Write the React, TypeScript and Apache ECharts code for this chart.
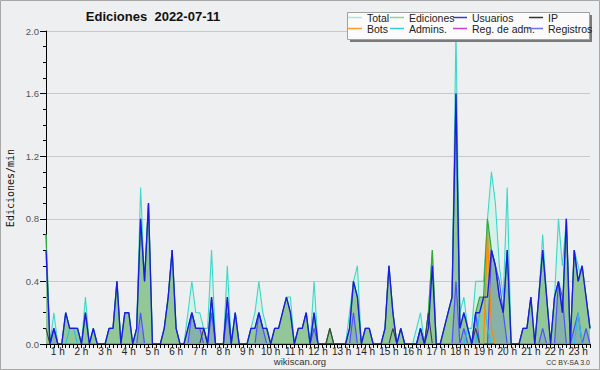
import React, { useEffect, useRef } from "react";
import * as echarts from "echarts";

// 10-minute slots from 00:00 to 23:00
const slots: string[] = [];
for (let h = 0; h <= 23; h++) {
  for (let m = 0; m < 60; m += 10) {
    if (h === 23 && m > 0) break;
    slots.push(`${String(h).padStart(2, "0")}:${String(m).padStart(2, "0")}`);
  }
}

const hourLabels = [
  "1 h", "2 h", "3 h", "4 h", "5 h", "6 h", "7 h", "8 h", "9 h", "10 h", "11 h", "12 h",
  "13 h", "14 h", "15 h", "16 h", "17 h", "18 h", "19 h", "20 h", "21 h", "22 h", "23 h",
];

const total = [
  0.7, 0, 0.2, 0, 0, 0.2, 0.1, 0.1, 0.1, 0,
  0.3, 0, 0.1, 0, 0, 0, 0.1, 0.1, 0.4, 0,
  0.2, 0.2, 0, 0.1, 1.0, 0.4, 0.9, 0, 0, 0,
  0.1, 0.3, 0.6, 0.1, 0, 0, 0.2, 0.4, 0.2, 0.2,
  0.1, 0.1, 0.6, 0, 0, 0, 0.5, 0, 0.2, 0,
  0, 0, 0.1, 0.2, 0.4, 0.2, 0.1, 0, 0.1, 0.1,
  0.2, 0.3, 0.3, 0, 0.1, 0.1, 0.2, 0, 0.4, 0,
  0, 0, 0.1, 0, 0, 0, 0, 0.2, 0.4, 0.5,
  0, 0.1, 0.1, 0, 0, 0, 0.1, 0.5, 0.2, 0,
  0.1, 0, 0, 0, 0.1, 0.2, 0, 0.2, 0.6, 0,
  0, 0.1, 0.2, 0.3, 2.0, 0.2, 0.3, 0.1, 0.1, 0.4,
  0.4, 0.4, 0.8, 1.1, 0.9, 0.5, 0.3, 1.0, 0, 0,
  0, 0.1, 0.1, 0.3, 0, 0.3, 0.7, 0.3, 0, 0.3,
  0.8, 0.5, 0.8, 0, 0.6, 0.5, 0.4, 0.3, 0.1,
];

const ediciones = [
  0.7, 0, 0.1, 0, 0, 0.2, 0.1, 0.1, 0.1, 0,
  0.2, 0, 0.1, 0, 0, 0, 0.1, 0.1, 0.4, 0,
  0.2, 0.2, 0, 0.1, 0.8, 0.4, 0.9, 0, 0, 0,
  0.1, 0.3, 0.6, 0.1, 0, 0, 0.1, 0.2, 0.1, 0.1,
  0.1, 0, 0.3, 0, 0, 0, 0.3, 0, 0.2, 0,
  0, 0, 0.1, 0.1, 0.2, 0.1, 0.1, 0, 0.1, 0.1,
  0.2, 0.3, 0.2, 0, 0.1, 0.1, 0.2, 0, 0.2, 0,
  0, 0, 0.1, 0, 0, 0, 0, 0.1, 0.4, 0.3,
  0, 0.1, 0.1, 0, 0, 0, 0.1, 0.5, 0.2, 0,
  0.1, 0, 0, 0, 0, 0.1, 0, 0.2, 0.6, 0,
  0, 0.1, 0.2, 0.3, 1.6, 0.1, 0.2, 0.1, 0, 0.2,
  0.3, 0.3, 0.8, 0.6, 0.5, 0.3, 0.2, 0.6, 0, 0,
  0, 0.1, 0.1, 0.3, 0, 0.3, 0.6, 0.3, 0, 0.3,
  0.4, 0.2, 0.8, 0, 0.6, 0.4, 0.5, 0.3, 0.1,
];

const usuarios = [
  0.6, 0, 0.1, 0, 0, 0.2, 0.1, 0.1, 0.1, 0,
  0.2, 0, 0.1, 0, 0, 0, 0.1, 0.1, 0.4, 0,
  0.2, 0.2, 0, 0.1, 0.8, 0.4, 0.9, 0, 0, 0,
  0.1, 0.3, 0.6, 0.1, 0, 0, 0.1, 0.2, 0.1, 0.1,
  0.1, 0, 0.3, 0, 0, 0, 0.3, 0, 0.2, 0,
  0, 0, 0.1, 0.1, 0.2, 0.1, 0.1, 0, 0.1, 0.1,
  0.2, 0.3, 0.2, 0, 0.1, 0.1, 0.2, 0, 0.2, 0,
  0, 0, 0, 0, 0, 0, 0, 0.1, 0.4, 0.3,
  0, 0.1, 0.1, 0, 0, 0, 0.1, 0.5, 0.2, 0,
  0.1, 0, 0, 0, 0, 0.1, 0, 0.1, 0.5, 0,
  0, 0.1, 0.2, 0.3, 1.6, 0.1, 0.2, 0.1, 0, 0.2,
  0.2, 0.3, 0.3, 0.6, 0.5, 0.3, 0.2, 0.6, 0, 0,
  0, 0.1, 0.1, 0.3, 0, 0.3, 0.6, 0.3, 0, 0.3,
  0.4, 0.2, 0.8, 0, 0.6, 0.4, 0.5, 0.3, 0.1,
];

const ip = [
  0.1, 0, 0, 0, 0, 0, 0, 0, 0, 0,
  0, 0, 0, 0, 0, 0, 0, 0, 0, 0,
  0, 0, 0, 0, 0, 0, 0, 0, 0, 0,
  0, 0, 0, 0, 0, 0, 0, 0, 0, 0,
  0.1, 0, 0, 0, 0, 0, 0, 0, 0, 0,
  0, 0, 0, 0, 0, 0, 0, 0, 0, 0,
  0, 0, 0, 0, 0, 0, 0, 0, 0, 0,
  0, 0, 0.1, 0, 0, 0, 0, 0, 0, 0,
  0, 0, 0, 0, 0, 0, 0, 0, 0.1, 0,
  0, 0, 0, 0, 0, 0, 0, 0.2, 0, 0,
  0, 0, 0, 0, 0, 0, 0, 0, 0, 0.1,
  0, 0, 0, 0, 0, 0, 0, 0, 0, 0,
  0, 0, 0, 0, 0, 0, 0, 0, 0, 0,
  0, 0, 0, 0, 0, 0, 0, 0, 0,
];

const bots = [
  0, 0, 0, 0, 0, 0, 0, 0, 0, 0,
  0, 0, 0, 0, 0, 0, 0, 0, 0, 0,
  0, 0, 0, 0, 0, 0, 0, 0, 0, 0,
  0, 0, 0, 0, 0, 0, 0, 0, 0, 0,
  0, 0, 0, 0, 0, 0, 0, 0, 0, 0,
  0, 0, 0, 0, 0, 0, 0, 0, 0, 0,
  0, 0, 0, 0, 0, 0, 0, 0, 0, 0,
  0, 0, 0, 0, 0, 0, 0, 0, 0, 0,
  0, 0, 0, 0, 0, 0, 0, 0, 0, 0,
  0, 0, 0, 0, 0, 0, 0, 0, 0, 0,
  0, 0, 0, 0, 0, 0, 0, 0, 0, 0,
  0, 0, 0.7, 0.1, 0, 0, 0, 0, 0, 0,
  0, 0, 0, 0, 0, 0, 0, 0, 0, 0,
  0, 0, 0, 0, 0, 0, 0, 0, 0,
];

const admins = [
  0, 0, 0, 0, 0, 0, 0.1, 0.1, 0, 0,
  0, 0, 0, 0, 0, 0, 0, 0, 0, 0,
  0, 0, 0, 0, 0, 0, 0, 0, 0, 0,
  0, 0, 0, 0, 0, 0, 0, 0, 0, 0,
  0, 0, 0, 0, 0, 0, 0, 0, 0, 0,
  0, 0, 0, 0, 0, 0, 0, 0, 0, 0,
  0, 0, 0, 0, 0, 0, 0, 0, 0, 0,
  0, 0, 0, 0, 0, 0, 0, 0, 0, 0,
  0, 0, 0, 0, 0, 0, 0, 0, 0, 0,
  0, 0, 0, 0, 0, 0, 0, 0, 0, 0,
  0, 0, 0, 0, 0, 0, 0, 0.1, 0, 0,
  0.2, 0.3, 0.1, 0, 0, 0, 0, 0, 0, 0,
  0, 0, 0, 0, 0, 0, 0, 0, 0, 0,
  0, 0, 0, 0, 0, 0.2, 0, 0, 0,
];

const regAdm = [
  0, 0, 0, 0, 0, 0, 0, 0, 0, 0,
  0, 0, 0, 0, 0, 0, 0, 0, 0, 0,
  0, 0, 0, 0, 0, 0, 0, 0, 0, 0,
  0, 0, 0, 0, 0, 0, 0, 0, 0, 0,
  0, 0, 0, 0, 0, 0, 0, 0, 0, 0,
  0, 0, 0, 0, 0, 0, 0, 0, 0, 0,
  0, 0, 0, 0, 0, 0, 0, 0, 0, 0,
  0, 0, 0, 0, 0, 0, 0, 0, 0, 0,
  0, 0, 0, 0, 0, 0, 0, 0, 0, 0,
  0, 0, 0, 0, 0, 0, 0, 0, 0, 0,
  0, 0, 0, 0, 0, 0, 0, 0, 0, 0,
  0, 0, 0, 0, 0, 0, 0, 0, 0, 0,
  0, 0, 0, 0, 0, 0, 0, 0, 0, 0,
  0, 0, 0, 0, 0, 0, 0, 0, 0,
];

const registros = [
  0, 0, 0.1, 0, 0, 0, 0, 0, 0, 0,
  0, 0, 0, 0, 0, 0, 0, 0, 0, 0,
  0, 0, 0, 0, 0.2, 0, 0, 0, 0, 0,
  0, 0, 0, 0, 0, 0, 0, 0.2, 0.1, 0.1,
  0, 0, 0.2, 0, 0, 0, 0.2, 0, 0, 0,
  0, 0, 0, 0, 0.2, 0.1, 0, 0, 0, 0,
  0, 0, 0, 0, 0, 0, 0, 0, 0.1, 0,
  0, 0, 0, 0, 0, 0, 0, 0, 0.2, 0,
  0, 0, 0, 0, 0, 0, 0, 0, 0, 0,
  0, 0, 0, 0, 0, 0.1, 0, 0, 0, 0,
  0, 0, 0, 0, 0.4, 0, 0.1, 0, 0, 0.2,
  0, 0, 0, 0.6, 0.5, 0.4, 0.2, 0, 0, 0,
  0, 0, 0, 0, 0, 0, 0.1, 0, 0, 0,
  0.4, 0.3, 0, 0, 0.1, 0.2, 0, 0.1, 0,
];

const FONT = '"Liberation Sans", Arial, sans-serif';

function lineSeries(name: string, data: number[], color: string, width: number, fill?: string, z = 2) {
  const s: any = {
    name,
    type: "line",
    data,
    showSymbol: false,
    symbol: "none",
    z,
    lineStyle: { color, width },
    itemStyle: { color },
    emphasis: { disabled: true },
  };
  if (fill) s.areaStyle = { color: fill, opacity: 1 };
  return s;
}

const legendItems: [string, string, number, number][] = [
  ["Total", "#a9e7e3", 348, 12],
  ["Ediciones", "#8ed68e", 390, 12],
  ["Usuarios", "#3838d8", 453, 12],
  ["IP", "#333333", 529, 12],
  ["Bots", "#ff9a33", 348, 23],
  ["Admins.", "#3cc8dc", 390, 23],
  ["Reg. de adm.", "#cc44cc", 453, 23],
  ["Registros", "#7272ee", 529, 23],
];

export default function App() {
  const ref = useRef<HTMLDivElement>(null);
  useEffect(() => {
    const chart = echarts.init(ref.current!, null, { renderer: "svg" });
    const option: any = {
      animation: false,
      backgroundColor: "#eeeff0",
      grid: { left: 46, right: 10, top: 31, bottom: 26 },
      legend: legendItems.map(([name, color, x, y]) => ({
        data: [{ name, itemStyle: { color } }],
        left: x,
        top: y,
        padding: 0,
        icon: "rect",
        itemWidth: 14,
        itemHeight: 1.5,
        selectedMode: false,
        z: 60,
        textStyle: { fontSize: 10.5, color: "#222", fontFamily: FONT, padding: [0, 0, 0, 0] },
      })),
      xAxis: {
        type: "category",
        data: slots,
        boundaryGap: false,
        z: 10,
        axisLine: { lineStyle: { color: "#000", width: 1 } },
        axisTick: { interval: 0, length: 4, lineStyle: { color: "#000" } },
        axisLabel: {
          interval: (i: number) => i % 6 === 3,
          formatter: (_v: string, i: number) => hourLabels[(i - 3) / 6] ?? "",
          fontSize: 10,
          color: "#222",
          fontFamily: FONT,
          margin: 2,
        },
        splitLine: { show: false },
      },
      yAxis: {
        type: "value",
        min: 0,
        max: 2,
        interval: 0.4,
        axisLine: { show: true, lineStyle: { color: "#000" } },
        axisTick: { show: true, length: 6, lineStyle: { color: "#000" } },
        minorTick: { show: true, splitNumber: 4, length: 3, lineStyle: { color: "#000" } },
        axisLabel: {
          formatter: (v: number) => v.toFixed(1),
          fontSize: 9.5,
          color: "#555",
          fontFamily: FONT,
          margin: 7,
        },
        splitLine: { show: true, lineStyle: { color: "#c9c9c9", width: 1 } },
      },
      series: [
        lineSeries("Total", total, "#3dd8c8", 1.1, "#d6f1ea", 2),
        lineSeries("Ediciones", ediciones, "#33a833", 1.2, "#92c898", 3),
        lineSeries("Registros", registros, "#5050ff", 1.2, "rgba(90,90,240,0.2)", 4),
        lineSeries("Admins.", admins, "#22c4e6", 1.1, undefined, 5),
        lineSeries("IP", ip, "#404040", 1.1, undefined, 5),
        lineSeries("Bots", bots, "#ff8c00", 1.3, undefined, 5),
        lineSeries("Reg. de adm.", regAdm, "#cc33cc", 1, undefined, 1),
        lineSeries("Usuarios", usuarios, "#1a1ae4", 1.35, undefined, 6),
      ],
      graphic: [
        {
          type: "rect",
          silent: true,
          z: 50,
          shape: { x: 0.5, y: 0.5, width: 599, height: 369 },
          style: { fill: "none", stroke: "#a8a8a8", lineWidth: 1 },
        },
        {
          type: "text",
          z: 50,
          x: 153,
          y: 16,
          style: {
            text: "Ediciones  2022-07-11",
            font: `bold 13px ${FONT}`,
            fill: "#111",
            align: "center",
            verticalAlign: "middle",
          },
        },
        {
          type: "text",
          z: 50,
          x: 10,
          y: 188,
          rotation: Math.PI / 2,
          style: {
            text: "Ediciones/min",
            font: '10px "DejaVu Sans Mono", monospace',
            fill: "#111",
            align: "center",
            verticalAlign: "middle",
          },
        },
        {
          type: "text",
          z: 50,
          x: 300,
          y: 361,
          style: { text: "wikiscan.org", font: `9.5px ${FONT}`, fill: "#333", align: "center", verticalAlign: "middle" },
        },
        {
          type: "text",
          z: 50,
          x: 590,
          y: 362,
          style: { text: "CC BY-SA 3.0", font: `7px ${FONT}`, fill: "#333", align: "right", verticalAlign: "middle" },
        },
        {
          type: "rect",
          silent: true,
          z: 50,
          shape: { x: 350, y: 15, width: 242, height: 27 },
          style: { fill: "#7a7a7a" },
        },
        {
          type: "rect",
          silent: true,
          z: 51,
          shape: { x: 347.5, y: 12.5, width: 242, height: 27 },
          style: { fill: "#fbfbfb", stroke: "#a0a0a0", lineWidth: 1 },
        },
      ],
    };
    chart.setOption(option);
    return () => chart.dispose();
  }, []);
  return <div ref={ref} style={{ position: "absolute", left: 0, top: 0, width: 600, height: 370 }} />;
}
